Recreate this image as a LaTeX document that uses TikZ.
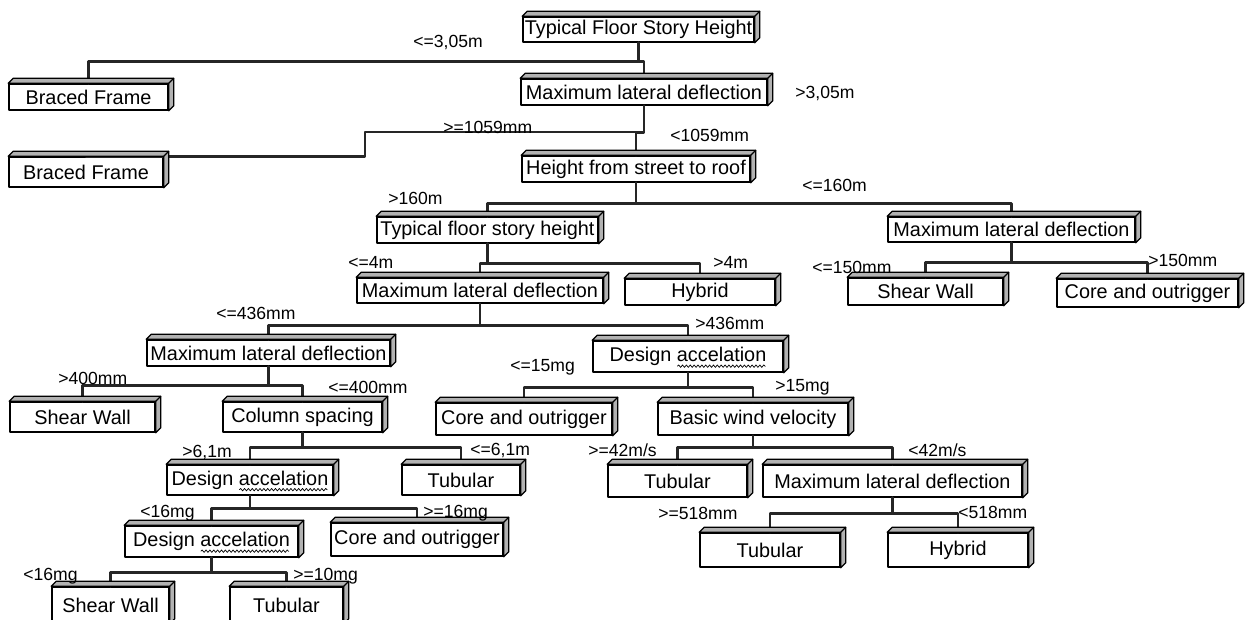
\documentclass[tikz,border=0pt]{standalone}
\usepackage{fontspec}
\setmainfont{Liberation Sans}
\usetikzlibrary{calc, decorations.pathmorphing}

\tikzset{
	box/.style={draw, fill=white, line width=0.9pt, inner sep=0pt,
		font=\fontsize{11.3}{13}\selectfont},
	sz/.style 2 args={minimum width=#1*0.02cm, minimum height=#2*0.02cm},
	face/.style={draw, line width=0.7pt, fill=gray!60},
	link/.style={line width=1.6pt, black!85},
	squig/.style={line width=0.4pt, decorate,
		decoration={snake, amplitude=0.7pt, segment length=2.2pt}},
	cond/.style={anchor=west, inner sep=0pt, font=\fontsize{10}{12}\selectfont},
}

\begin{document}
\begin{tikzpicture}[x=0.02cm, y=-0.02cm, line cap=round, line join=round]
\useasboundingbox (0,0) rectangle (1250,619);

%========================
% decision boxes
%========================
\node[box, sz={231}{25}] (fsh) at (638.5,29.5) {Typical Floor Story Height};
\node[box, sz={159}{26}] (bf1) at (88.5,97) {Braced Frame};
\node[box, sz={246}{26}] (mld1) at (644,92) {Maximum lateral deflection};
\node[box, sz={154}{30}] (bf2) at (86,172) {Braced Frame};
\node[box, sz={228}{26}] (hsr) at (636,169) {Height from street to roof};
\node[box, sz={221}{26}] (tsh) at (487.5,230) {Typical floor story height};
\node[box, sz={247}{25}] (mld2) at (1011.5,229.5) {Maximum lateral deflection};
\node[box, sz={246}{25}] (mld3) at (480,290.5) {Maximum lateral deflection};
\node[box, sz={150}{26}] (hyb1) at (700,292) {Hybrid};
\node[box, sz={155}{27}] (sw1) at (925.5,291.5) {Shear Wall};
\node[box, sz={181}{28}] (co1) at (1147.5,293) {Core and outrigger};
\node[box, sz={243}{26}] (mld4) at (268.5,353) {Maximum lateral deflection};
\node[box, sz={190}{31}] (da1) at (688,356.5) {Design accelation};
\node[box, sz={145}{30}] (sw2) at (82.5,417) {Shear Wall};
\node[box, sz={159}{30}] (cs) at (302.5,417) {Column spacing};
\node[box, sz={176}{32}] (co2) at (524,419) {Core and outrigger};
\node[box, sz={190}{32}] (bwv) at (753,419) {Basic wind velocity};
\node[box, sz={166}{30}] (da2) at (250,480) {Design accelation};
\node[box, sz={118}{30}] (tub1) at (461,480) {Tubular};
\node[box, sz={139}{32}] (tub2) at (677.5,481) {Tubular};
\node[box, sz={259}{32}] (mld5) at (892.5,481) {Maximum lateral deflection};
\node[box, sz={173}{31}] (da3) at (211.5,541.5) {Design accelation};
\node[box, sz={172}{33}] (co3) at (417,539.5) {Core and outrigger};
\node[box, sz={140}{34}] (tub3) at (770,550) {Tubular};
\node[box, sz={140}{34}] (hyb2) at (958,550) {Hybrid};
\node[box, sz={117}{36}] (sw3) at (110.5,605) {Shear Wall};
\node[box, sz={113}{36}] (tub4) at (286.5,605) {Tubular};

% spell-check squiggle under "accelation"
\foreach \d in {da1,da2,da3}
	\draw[squig] ([shift={(-6pt,-5.5pt)}]\d.center) -- ++(50pt,0);

%========================
% branches
%========================
\draw[link] (fsh.south) -- ++(0,19) -| (bf1.north);
\draw[link] (fsh.south) -- ++(0,19) -| (mld1.north);
\draw[link] (mld1.south) |- (365,132) |- (bf2.north);
\draw[link] (mld1.south) -- ++(0,27) -| (hsr.north);
\draw[link] (hsr.south) -- ++(0,21) -| (tsh.north);
\draw[link] (hsr.south) -- ++(0,21) -| (mld2.north);
\draw[link] (tsh.south) -- ++(0,20) -| (mld3.north);
\draw[link] (tsh.south) -- ++(0,20) -| (hyb1.north);
\draw[link] (mld2.south) -- ++(0,20) -| (sw1.north);
\draw[link] (mld2.south) -- ++(0,20) -| (co1.north);
\draw[link] (mld3.south) -- ++(0,22) -| (mld4.north);
\draw[link] (mld3.south) -- ++(0,22) -| (da1.north);
\draw[link] (mld4.south) -- ++(0,19) -| (sw2.north);
\draw[link] (mld4.south) -- ++(0,19) -| (cs.north);
\draw[link] (da1.south) -- ++(0,15) -| (co2.north);
\draw[link] (da1.south) -- ++(0,15) -| (bwv.north);
\draw[link] (cs.south) -- ++(0,15) -| (da2.north);
\draw[link] (cs.south) -- ++(0,15) -| (tub1.north);
\draw[link] (bwv.south) -- ++(0,12) -| (tub2.north);
\draw[link] (bwv.south) -- ++(0,12) -| (mld5.north);
\draw[link] (da2.south) -- ++(0,13) -| (da3.north);
\draw[link] (da2.south) -- ++(0,13) -| (co3.north);
\draw[link] (mld5.south) -- ++(0,16) -| (tub3.north);
\draw[link] (mld5.south) -- ++(0,16) -| (hyb2.north);
\draw[link] (da3.south) -- ++(0,15) -| (sw3.north);
\draw[link] (da3.south) -- ++(0,15) -| (tub4.north);

% top and side faces of the boxes
\foreach \b in {fsh,bf1,mld1,bf2,hsr,tsh,mld2,mld3,hyb1,sw1,co1,mld4,da1,sw2,
	cs,co2,bwv,da2,tub1,tub2,mld5,da3,co3,tub3,hyb2,sw3,tub4}{
	\draw[face] (\b.north west) -- ++(5,-5) -| ([shift={(5,-5)}]\b.south east)
		-- (\b.south east) -- (\b.north east) -- cycle;
	\draw[face] (\b.north east) -- ++(5,-5);
}

%========================
% split conditions
%========================
\node[cond] (c1) at (413,42) {<=3,05m};
\node[cond] (c2) at (795,93) {>3,05m};
\node[cond] (c3) at (443,127) {>=1059mm};
\node[cond] (c4) at (670,135) {<1059mm};
\node[cond] (c5) at (388,198) {>160m};
\node[cond] (c6) at (802,185) {<=160m};
\node[cond] (c7) at (348,262) {<=4m};
\node[cond] (c8) at (713,262) {>4m};
\node[cond] (c9) at (812,267) {<=150mm};
\node[cond] (c10) at (1148,260) {>150mm};
\node[cond] (c11) at (216,313) {<=436mm};
\node[cond] (c12) at (695,323) {>436mm};
\node[cond] (c13) at (58,378) {>400mm};
\node[cond] (c14) at (328,387) {<=400mm};
\node[cond] (c15) at (510,367) {<=15mg};
\node[cond] (c16) at (775,387) {>15mg};
\node[cond] (c17) at (182,452) {>6,1m};
\node[cond] (c18) at (470,450) {<=6,1m};
\node[cond] (c19) at (588,450) {>=42m/s};
\node[cond] (c20) at (908,450) {<42m/s};
\node[cond] (c21) at (658,513) {>=518mm};
\node[cond] (c22) at (958,512) {<518mm};
\node[cond] (c23) at (140,513) {<16mg};
\node[cond] (c24) at (423,513) {>=16mg};
\node[cond] (c25) at (23,576) {<16mg};
\node[cond] (c26) at (293,576) {>=10mg};
\end{tikzpicture}
\end{document}
